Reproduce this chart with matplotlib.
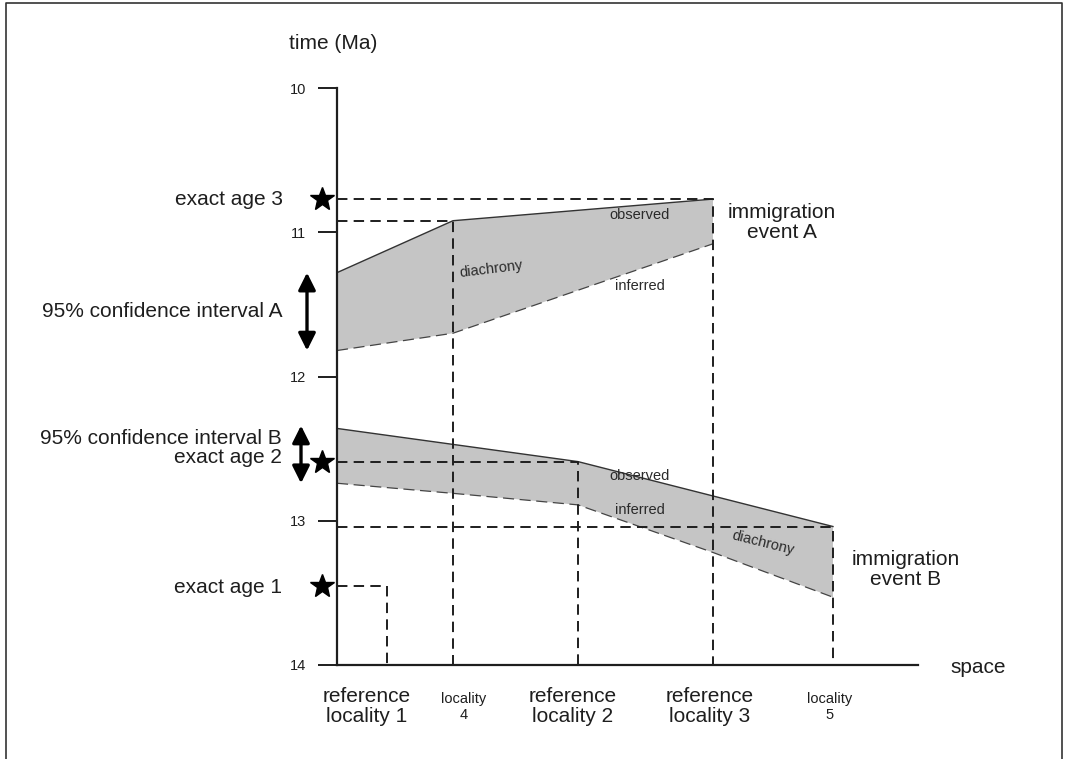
import numpy as np
import matplotlib
matplotlib.use("Agg")
import matplotlib.pyplot as plt
from matplotlib.lines import Line2D

plt.rcParams['font.family'] = ['Liberation Sans', 'DejaVu Sans']
plt.rcParams['lines.scale_dashes'] = False

# ---- data (space in arbitrary units from the time axis, time in Ma) ----
locality_names = ["reference\nlocality 1", "locality\n4", "reference\nlocality 2",
                  "reference\nlocality 3", "locality\n5"]
locality_x = [0.50, 1.16, 2.41, 3.76, 4.96]
locality_small = [False, True, False, False, True]

time_ticks = [10, 11, 12, 13, 14]

# immigration event A
a_obs_x = [0.0, 1.16, 3.76]
a_obs_t = [11.28, 10.92, 10.77]
a_inf_x = [0.0, 1.16, 3.76]
a_inf_t = [11.82, 11.70, 11.08]

# immigration event B
b_obs_x = [0.0, 2.41, 4.96]
b_obs_t = [12.36, 12.59, 13.04]
b_inf_x = [0.0, 1.16, 2.41, 3.76, 4.96]
b_inf_t = [12.74, 12.81, 12.89, 13.22, 13.53]

# dashed guide lines: time level and locality index where they turn down
guide_t = [10.77, 10.92, 12.59, 13.04, 13.45]
guide_loc = [3, 1, 2, 4, 0]

exact_ages = [13.45, 12.59, 10.77]
exact_labels = ["exact age 1", "exact age 2", "exact age 3"]

ci_a = (11.28, 11.82)
ci_b = (12.34, 12.74)

# ---- figure ----
W, H = 1069, 759
fig = plt.figure(figsize=(W / 100, H / 100), dpi=100)
ax = fig.add_axes([337 / W, (H - 665) / H, (918 - 337) / W, (665 - 88) / H])
ax.set_xlim(0, 5.81)
ax.set_ylim(14, 10)

ink = '#1e1e1e'
for s in ['top', 'right']:
    ax.spines[s].set_visible(False)
for s in ['left', 'bottom']:
    ax.spines[s].set_linewidth(1.6)
    ax.spines[s].set_color(ink)
ax.set_xticks([])
ax.set_yticks(time_ticks)
ax.set_yticklabels([str(t) for t in time_ticks])
ax.tick_params(axis='y', direction='out', length=14, width=1.4, pad=8,
               labelsize=10.5, colors=ink)

# shaded diachrony bands
fill_col = '#c5c5c5'
ax.fill(np.r_[a_obs_x, a_inf_x[::-1]], np.r_[a_obs_t, a_inf_t[::-1]],
        color=fill_col, lw=0, zorder=1)
ax.fill(np.r_[b_obs_x, b_inf_x[::-1]], np.r_[b_obs_t, b_inf_t[::-1]],
        color=fill_col, lw=0, zorder=1)

for xs, ts in [(a_obs_x, a_obs_t), (b_obs_x, b_obs_t)]:
    ax.plot(xs, ts, color='#333333', lw=1.0, zorder=2)
for xs, ts in [(a_inf_x, a_inf_t), (b_inf_x, b_inf_t)]:
    ax.plot(xs, ts, color='#444444', lw=0.9, dashes=(8, 4), zorder=2)

# dashed guides: horizontal from axis to the locality, then down to the space axis
for t, li in zip(guide_t, guide_loc):
    x = locality_x[li]
    ax.plot([0, x, x], [t, t, 14], color=ink, lw=1.4, dashes=(7.5, 4.5),
            zorder=3, clip_on=False)

# stars for exact ages
for t in exact_ages:
    ax.plot(-0.15, t, marker='*', ms=18, color='k', clip_on=False, zorder=5)

# confidence interval arrows
for (lo, hi), xa in [(ci_a, -0.30), (ci_b, -0.36)]:
    ax.annotate('', xy=(xa, lo), xytext=(xa, hi), annotation_clip=False,
                arrowprops=dict(arrowstyle='<|-|>', lw=2.4, color='k',
                                mutation_scale=26, shrinkA=0, shrinkB=0))

big = 15
txt = dict(color=ink, fontsize=big, clip_on=False)
ax.text(-0.04, 9.69, "time (Ma)", ha='center', va='center', **txt)
ax.text(-0.54, exact_ages[2], exact_labels[2], ha='right', va='center', **txt)
ax.text(-0.54, 11.55, "95% confidence interval A", ha='right', va='center', **txt)
ax.text(-0.55, 12.43, "95% confidence interval B", ha='right', va='center', **txt)
ax.text(-0.55, 12.56, exact_labels[1], ha='right', va='center', **txt)
ax.text(-0.55, exact_ages[0] + 0.01, exact_labels[0], ha='right', va='center', **txt)
ax.text(4.45, 10.93, "immigration\nevent A", ha='center', va='center',
        linespacing=1.05, **txt)
ax.text(5.69, 13.34, "immigration\nevent B", ha='center', va='center',
        linespacing=1.05, **txt)
ax.text(6.13, 14.02, "space", ha='left', va='center', **txt)

# locality labels under the space axis
label_nudge = [-0.20, 0.11, -0.05, -0.03, -0.03]
for x, name, small, dx in zip(locality_x, locality_names, locality_small, label_nudge):
    ax.text(x + dx, 14.29, name, ha='center', va='center', color=ink,
            fontsize=10.5 if small else big, linespacing=1.2 if small else 1.05,
            clip_on=False)

# band annotations
sm = dict(color='#2a2a2a', fontsize=10.5, ha='center', va='center')
ax.text(3.03, 10.88, "observed", **sm)
ax.text(3.03, 11.37, "inferred", **sm)
ax.text(1.54, 11.255, "diachrony", rotation=7, **sm)
ax.text(3.03, 12.69, "observed", **sm)
ax.text(3.03, 12.925, "inferred", **sm)
ax.text(4.26, 13.155, "diachrony", rotation=-14, **sm)

# page frame
fig.add_artist(Line2D([6 / W, 6 / W, 1062 / W, 1062 / W], [0, 1 - 3 / H, 1 - 3 / H, 0],
                      transform=fig.transFigure, color='#333333', lw=1.2))

fig.savefig("out.png", dpi=100)
